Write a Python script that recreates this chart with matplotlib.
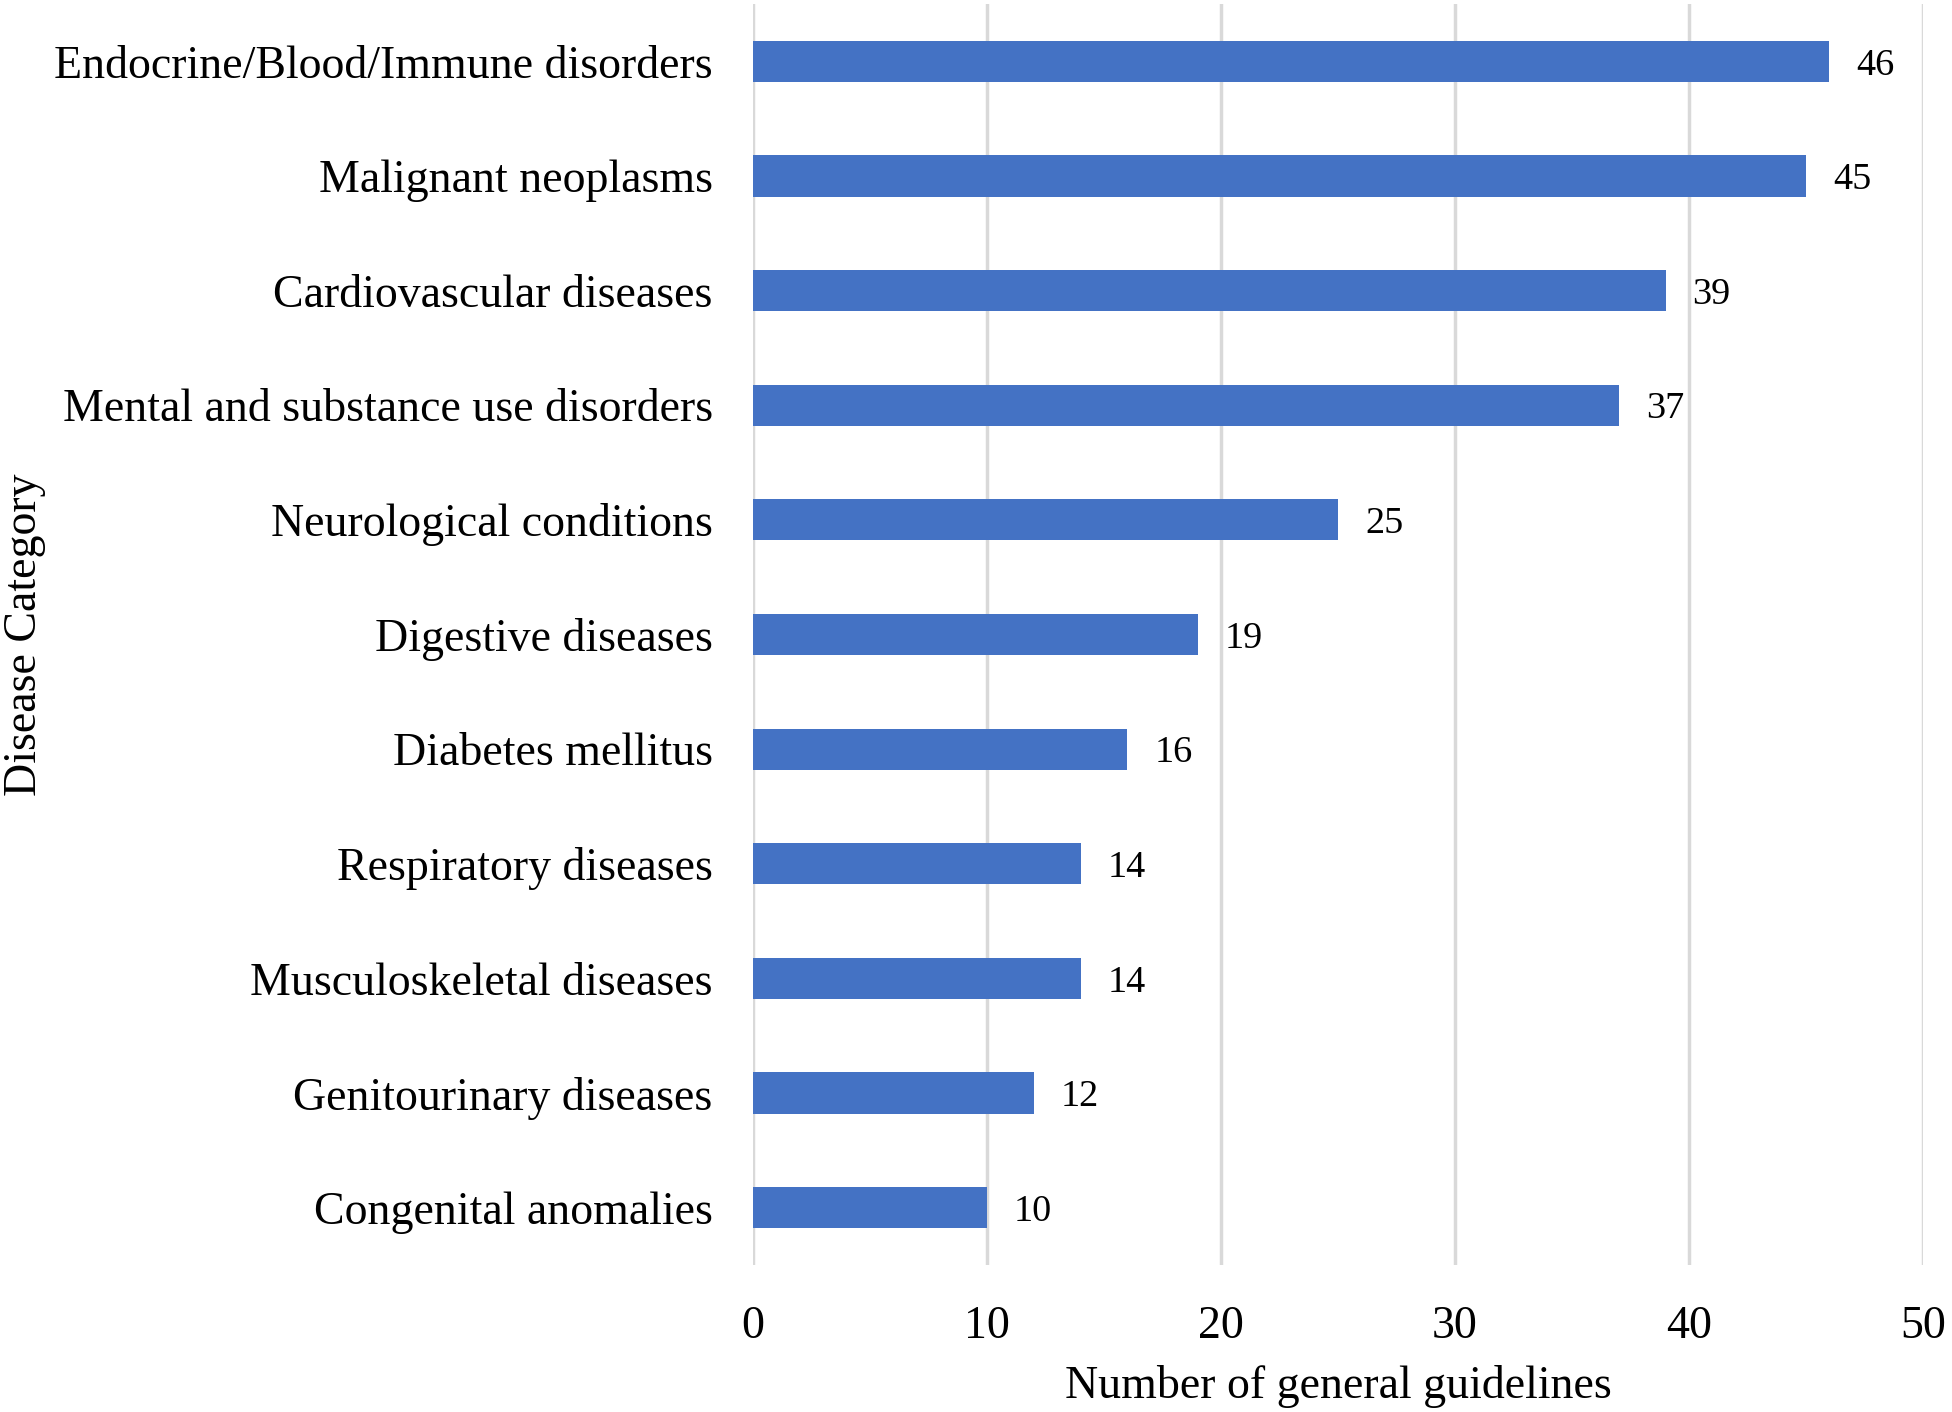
"""
Horizontal bar chart: number of general guidelines per disease category.

Output:
    out.png
"""

import matplotlib.pyplot as plt


# ---------------------------------------------------------------------
# Data
# ---------------------------------------------------------------------

CATEGORIES = [
    "Endocrine/Blood/Immune disorders",
    "Malignant neoplasms",
    "Cardiovascular diseases",
    "Mental and substance use disorders",
    "Neurological conditions",
    "Digestive diseases",
    "Diabetes mellitus",
    "Respiratory diseases",
    "Musculoskeletal diseases",
    "Genitourinary diseases",
    "Congenital anomalies",
]
COUNTS = [46, 45, 39, 37, 25, 19, 16, 14, 14, 12, 10]
X_TICKS = [0, 10, 20, 30, 40, 50]

BAR_COLOR = "#4472C4"
GRID_COLOR = "#D9D9D9"

W, H, DPI = 1952, 1412, 100


def main():
    plt.rcParams["font.family"] = ["Liberation Serif", "DejaVu Serif"]

    fig = plt.figure(figsize=(W / DPI, H / DPI), dpi=DPI)
    ax = fig.add_axes([753 / W, 1 - 1265 / H, (1923 - 753) / W, (1265 - 4) / H])

    # top category first
    ypos = list(range(len(CATEGORIES)))[::-1]
    ax.barh(ypos, COUNTS, height=0.36, color=BAR_COLOR, zorder=3)

    for y, v in zip(ypos, COUNTS):
        ax.text(v + 1.15, y, str(v), va="center_baseline", ha="left",
                fontsize=27.5)

    ax.set_xlim(0, 50)
    ax.set_ylim(-0.5, len(CATEGORIES) - 0.5)
    ax.set_xticks(X_TICKS)
    ax.set_yticks(ypos)
    ax.set_yticklabels(CATEGORIES)

    ax.grid(axis="x", color=GRID_COLOR, linewidth=2.5, zorder=0)
    for side in ax.spines.values():
        side.set_visible(False)
    ax.tick_params(axis="both", length=0, labelsize=33)
    ax.tick_params(axis="y", pad=29)
    ax.tick_params(axis="x", pad=29)

    fig.text(1338 / W, 1 - 1386 / H, "Number of general guidelines",
             ha="center", va="center", fontsize=33)
    fig.text(25 / W, 1 - 635 / H, "Disease Category", rotation=90,
             ha="center", va="center", fontsize=33)

    fig.savefig("out.png", dpi=DPI)
    plt.close(fig)


if __name__ == "__main__":
    main()
